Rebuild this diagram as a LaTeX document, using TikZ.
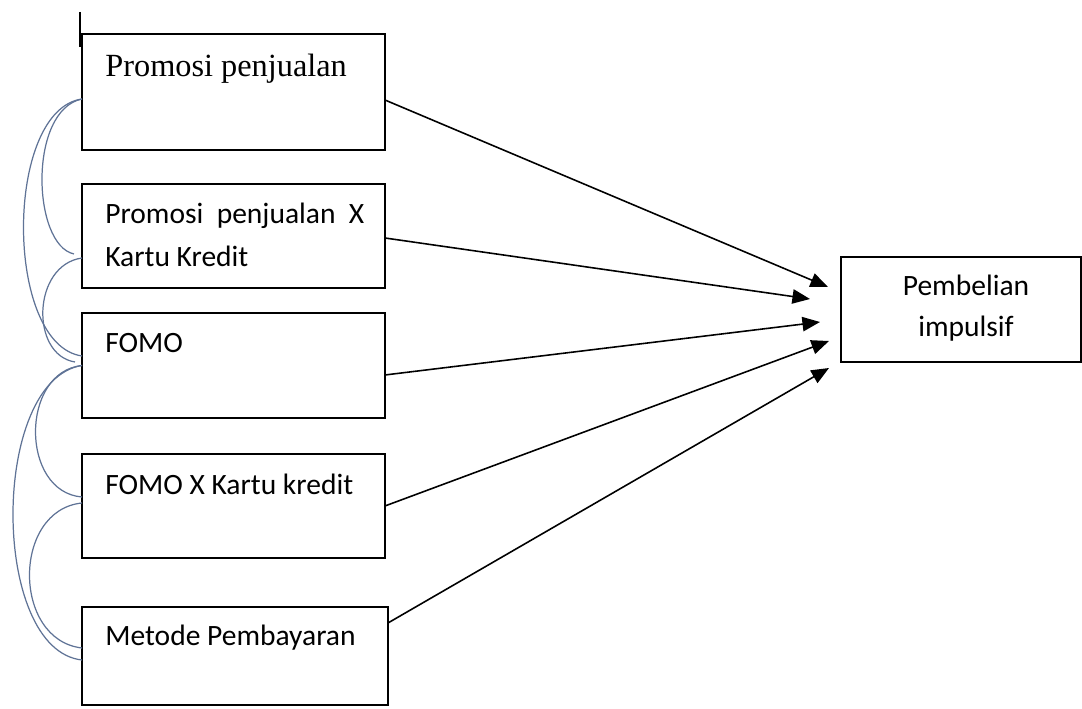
\documentclass[tikz,border=0pt]{standalone}
\usepackage{fontspec}
\setmainfont{Carlito}
\newfontfamily\timesfont{Liberation Serif}
\usepackage{xcolor}
\usetikzlibrary{arrows.meta,positioning,calc}

\definecolor{covblue}{RGB}{95,115,150}
\tikzset{
  varbox/.style={draw, line width=1.5pt, minimum width=6.06cm, inner sep=0pt, outer sep=0pt, anchor=north west},
  vartext/.style={anchor=base west, inner sep=0pt, align=left, font=\fontsize{16.8}{25}\selectfont},
  pathline/.style={draw, line width=0.9pt, -{Triangle[length=10pt,width=8.2pt]}},
  covline/.style={draw=covblue, line width=0.7pt},
}

\begin{document}
\begin{tikzpicture}[x=0.02cm, y=-0.02cm]
  \useasboundingbox (0,0) rectangle (1082,709);

  % cursor mark top left
  \draw[line width=1.1pt] (80,12) -- (80,47);

  % exogenous boxes
  \node[varbox, minimum height=2.32cm] (pp) at (82,34) {};
  \node[varbox, minimum height=2.08cm] (ppk) at (82,184) {};
  \node[varbox, minimum height=2.10cm] (fomo) at (82,313) {};
  \node[varbox, minimum height=2.08cm] (fomok) at (82,454) {};
  \node[varbox, minimum height=1.96cm, minimum width=6.12cm] (metode) at (82,607) {};

  \node[vartext, font=\timesfont\fontsize{18.4}{22}\selectfont] (ppl) at (105,77) {Promosi penjualan};
  \node[vartext] (ppkl) at (105,267) {Promosi\ \ penjualan\ \ X\\Kartu Kredit};
  \node[vartext] (fomol) at (105,353) {FOMO};
  \node[vartext] (fomokl) at (105,495) {FOMO X Kartu kredit};
  \node[vartext] (metodel) at (105,645) {Metode Pembayaran};

  % endogenous box
  \node[draw, line width=1.5pt, minimum width=4.80cm, minimum height=2.10cm, inner sep=0pt, outer sep=0pt] (impulsif) at (961,309.5) {};
  \node[anchor=base, inner sep=0pt, align=center, font=\fontsize{16.8}{23.9}\selectfont] (impulsifl) at (966,337) {Pembelian\\impulsif};

  % arrow tips
  \coordinate (h1) at (828,287);
  \coordinate (h2) at (810,299);
  \coordinate (h3) at (820,322);
  \coordinate (h4) at (829,341);
  \coordinate (h5) at (829,368);

  \draw[pathline] ([yshift=-0.16cm]pp.east) -- (h1);
  \draw[pathline] ([yshift=-0.04cm]ppk.east) -- (h2);
  \draw[pathline] ([yshift=-0.19cm]fomo.east) -- (h3);
  \draw[pathline] (fomok.east) -- (h4);
  \draw[pathline] ([yshift=-0.32cm]metode.north east) -- (h5);

  % correlations
  \draw[covline] ([yshift=-0.14cm]pp.west) .. controls (28,110) and (32,245) .. ([xshift=-0.16cm,yshift=-0.36cm]ppk.west);
  \draw[covline] ([yshift=-0.14cm]pp.west) .. controls (4,110) and (4,345) .. ([yshift=0.19cm]fomo.west);
  \draw[covline] ([yshift=-0.44cm]ppk.west) .. controls (32,265) and (30,355) .. ([xshift=-0.14cm,yshift=0.07cm]fomo.west);
  \draw[covline] (fomo.west) .. controls (20,372) and (20,492) .. ([yshift=0.18cm]fomok.west);
  \draw[covline] (fomo.west) .. controls (-10,380) and (-10,650) .. ([yshift=-0.08cm]metode.west);
  \draw[covline] ([yshift=0.06cm]fomok.west) .. controls (12,510) and (12,640) .. ([yshift=0.16cm]metode.west);
\end{tikzpicture}
\end{document}
